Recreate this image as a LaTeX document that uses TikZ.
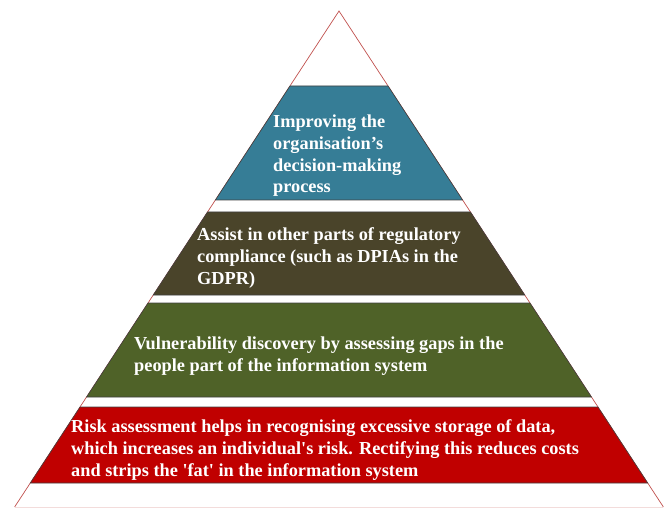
\documentclass[tikz,border=0pt]{standalone}
\usepackage{fontspec}
\setmainfont{Liberation Serif}
\usepackage{xcolor}
\usetikzlibrary{calc}

\definecolor{tipblue}{HTML}{367D96}
\definecolor{midbrown}{HTML}{4A442A}
\definecolor{lowgreen}{HTML}{4F6228}
\definecolor{basered}{HTML}{C00000}
\definecolor{edgered}{HTML}{C0504D}

\tikzset{
  layer/.style={draw=black!75, line width=0.6pt},
  % anchored at the baseline of the last line
  layertext/.style={anchor=base west, inner sep=0pt, align=left, text=white,
    font=\fontsize{18.3}{21.8}\selectfont\bfseries}
}

\begin{document}
\begin{tikzpicture}[x=1pt, y=-1pt]
\useasboundingbox (0,0) rectangle (670,508);
% outer triangle
\draw[edgered!20, line width=0.5pt] (14.6,507) -- (663.4,507);
\draw[edgered, line width=0.7pt]
    (14.6,507) --  % bottom left
    (339,11) --    % apex
    (663.4,507);   % bottom right
% the four layers, cut from the same triangle
\foreach \ya/\yb/\col in {86/200/tipblue, 212/295/midbrown,
                          303/397/lowgreen, 407/483/basered}{
  \filldraw[layer, fill=\col]
      ({339-0.654*(\ya-11)},\ya) --
      ({339+0.654*(\ya-11)},\ya) --
      ({339+0.654*(\yb-11)},\yb) --
      ({339-0.654*(\yb-11)},\yb) -- cycle;
}
\node[layertext] (top) at (273,193) {Improving the\\organisation’s\\decision-making\\process};
\node[layertext] (upper) at (197,284) {Assist in other parts of regulatory\\compliance (such as DPIAs in the\\GDPR)};
\node[layertext] (lower) at (134,371) {Vulnerability discovery by assessing gaps in the\\people part of the information system};
\node[layertext] (bottom) at (71,476) {Risk assessment helps in recognising excessive storage of data,\\which increases an individual\textquotesingle s risk. Rectifying this reduces costs\\and strips the \textquotesingle fat\textquotesingle{} in the information system};

\end{tikzpicture}
\end{document}
